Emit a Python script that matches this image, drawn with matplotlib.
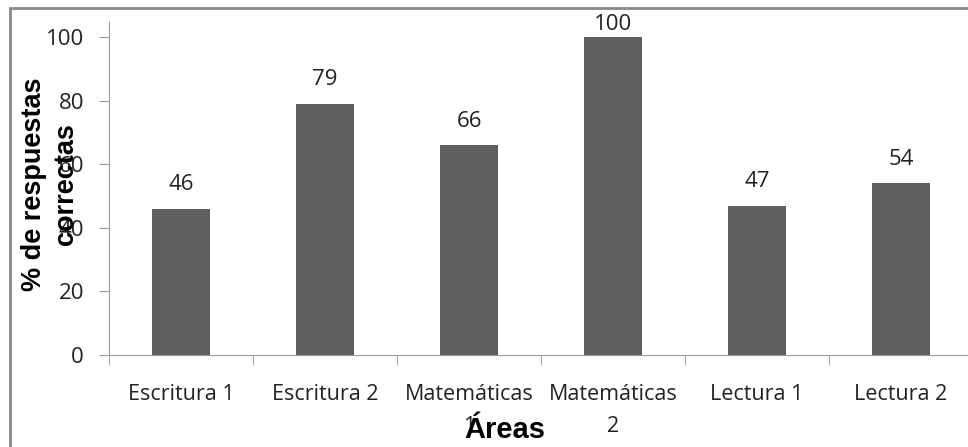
import matplotlib.pyplot as plt
from matplotlib.patches import Rectangle

areas = ["Escritura 1", "Escritura 2", "Matemáticas\n1", "Matemáticas\n2", "Lectura 1", "Lectura 2"]
pct = [46, 79, 66, 100, 47, 54]

fig = plt.figure(figsize=(9.68, 4.47), dpi=100)
# plot area runs a little past the right edge of the figure
ax = fig.add_axes([109 / 968, 92 / 447, 864 / 968, 333 / 447])

x = range(len(areas))
bars = ax.bar(x, pct, width=0.4, color="#5f5f5f")
for b, v in zip(bars, pct):
    # labels stay inside the plot area, so the tallest one sits close to its bar
    ax.text(b.get_x() + b.get_width() / 2, min(v + 7.5, 103.8), str(v), ha="center", va="center",
            fontsize=16, family="Open Sans", color="#222222")

ax.set_xlim(-0.5, len(areas) - 0.5)
ax.set_ylim(0, 104.7)
ax.set_yticks(range(0, 101, 20))
ax.set_xticks(x)
ax.set_xticklabels(areas, fontsize=15.5, family="Open Sans", color="#222222", linespacing=1.7)
ax.set_xticks([i + 0.5 for i in range(-1, len(areas))], minor=True)
ax.tick_params(axis="x", which="major", length=0, pad=21)
ax.tick_params(axis="x", which="minor", length=7, color="#999999")
ax.tick_params(axis="y", length=7, pad=11, color="#999999", labelsize=16, labelcolor="#222222")
for lab in ax.get_yticklabels():
    lab.set_family("Open Sans")

for s in ["top", "right"]:
    ax.spines[s].set_visible(False)
for s in ["left", "bottom"]:
    ax.spines[s].set_color("#999999")

fig.text(505 / 968, 1 - 430 / 447, "Áreas", ha="center", va="center",
         fontsize=21, fontweight="bold", family="Liberation Sans")
fig.text(50 / 968, 1 - 184 / 447, "% de respuestas\ncorrectas", ha="center", va="center",
         rotation=90, fontsize=19.5, fontweight="bold", family="Liberation Sans", linespacing=1.3)

# outer frame
fig.patches.append(Rectangle((10 / 968, -0.05), 1.1, 1 - 8 / 447 + 0.05,
                             transform=fig.transFigure, fill=False, edgecolor="#888888", lw=2))

fig.savefig("out.png", dpi=100)
